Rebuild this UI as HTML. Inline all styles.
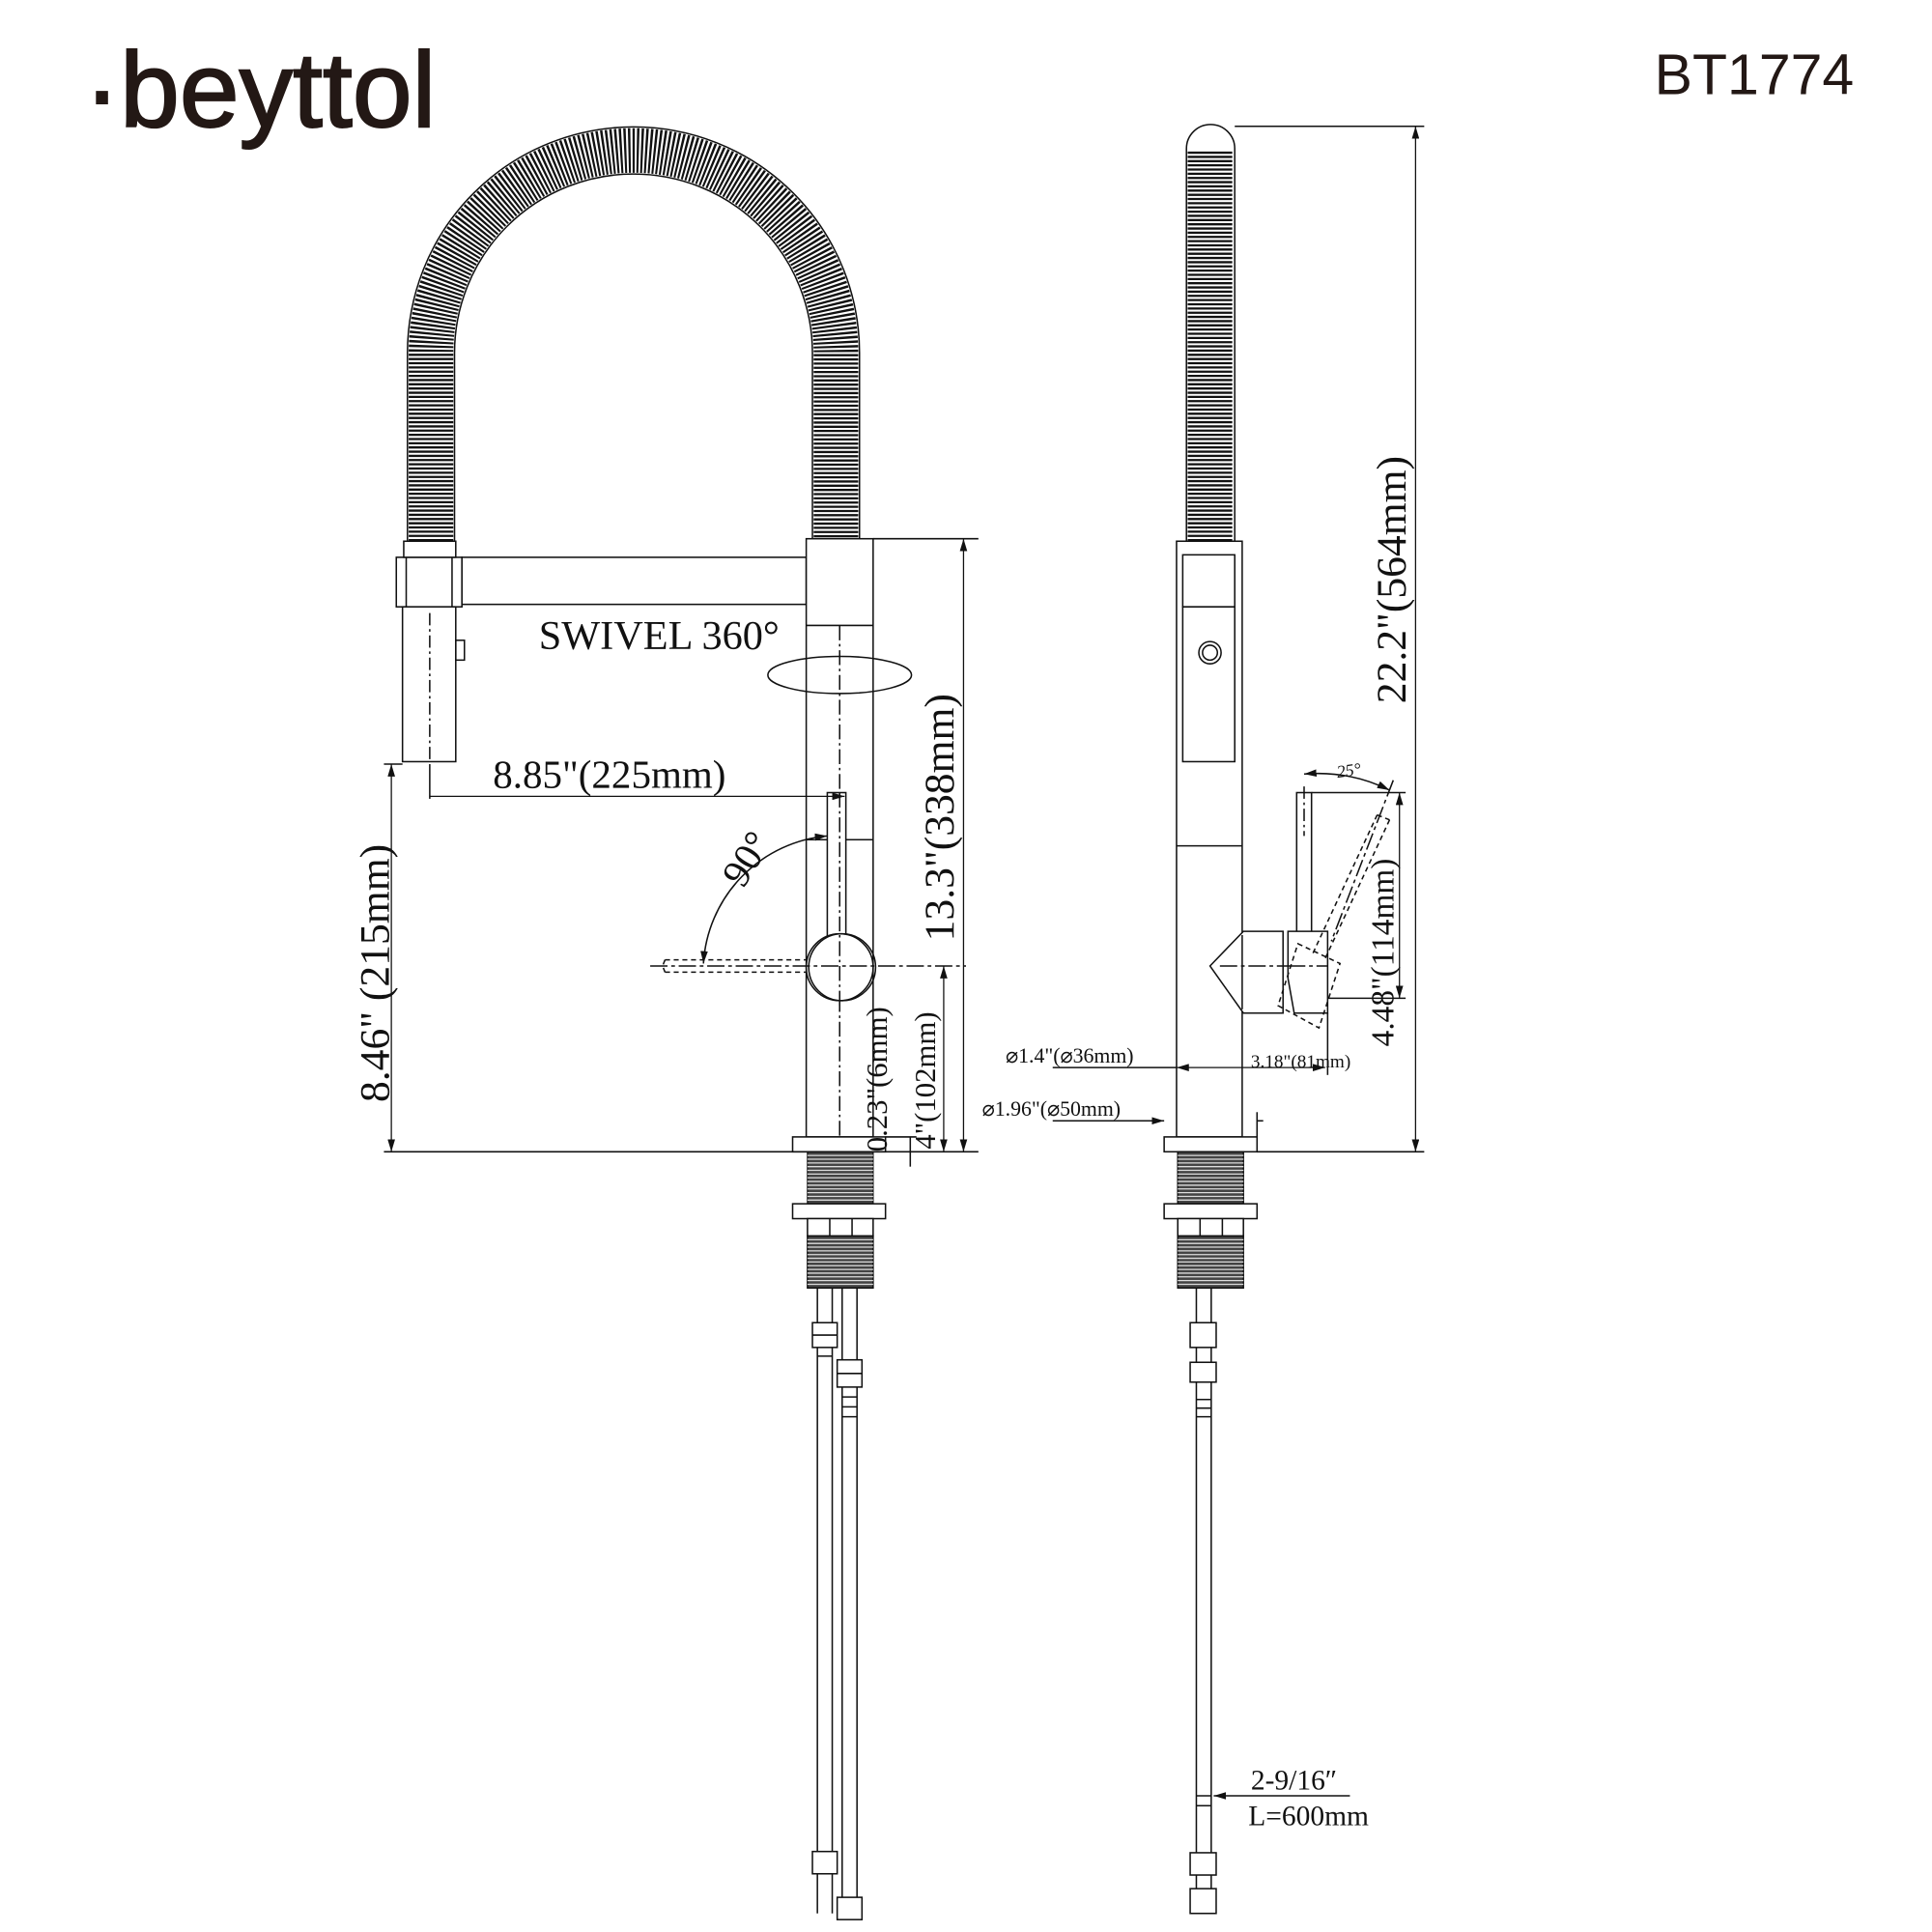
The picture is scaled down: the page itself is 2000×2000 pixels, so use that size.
<!DOCTYPE html>
<html><head><meta charset="utf-8"><style>
html,body{margin:0;padding:0;background:#fff;}
svg{display:block;}
text{font-family:"Liberation Serif",serif;fill:#111;}
</style></head><body>
<svg width="2000" height="2000" viewBox="0 0 1560 1560" xmlns="http://www.w3.org/2000/svg">
<defs>
<marker id="a" viewBox="0 0 10 6" refX="10" refY="3" markerWidth="10" markerHeight="6" orient="auto-start-reverse" markerUnits="userSpaceOnUse"><path d="M0 0L10 3L0 6z" fill="#111"/></marker>
</defs>
<rect width="1560" height="1560" fill="#fff"/>
<!-- header -->
<text x="68" y="102" textLength="284" lengthAdjust="spacingAndGlyphs" style="font-family:'Liberation Sans',sans-serif;font-size:86px;fill:#231815;stroke:#231815;stroke-width:1.5">·beyttol</text>
<text x="1497" y="76" text-anchor="end" style="font-family:'Liberation Sans',sans-serif;font-size:46px;fill:#231815">BT1774</text>

<g fill="none" stroke="#111" stroke-width="1.2">
<!-- LEFT hose -->
<path d="M348 437 L348 285 A163.5 163.5 0 0 1 675 285 L675 437" stroke="#111" stroke-width="36" stroke-dasharray="1.8 1.6"/>
<path d="M329 437 L329 285 A182.5 182.5 0 0 1 694 285 L694 437"/>
<path d="M367 437 L367 285 A144.5 144.5 0 0 1 656 285 L656 437"/>
<!-- holder & spray -->
<rect x="320" y="450" width="53" height="40" fill="#fff"/>
<line x1="328" y1="450" x2="328" y2="490"/><line x1="365" y1="450" x2="365" y2="490"/>
<rect x="326" y="437" width="42" height="13" fill="#fff"/>
<rect x="325" y="490" width="43" height="125" fill="#fff"/>
<line x1="347" y1="495" x2="347" y2="615" stroke-dasharray="10 3 2 3"/>
<rect x="368" y="517" width="7" height="16"/>
<!-- arm -->
<rect x="373" y="450" width="278" height="38" fill="#fff"/>
<!-- body -->
<rect x="651" y="435" width="54" height="483" fill="#fff"/>
<line x1="651" y1="505" x2="705" y2="505"/>
<line x1="651" y1="678" x2="705" y2="678"/>
<line x1="678" y1="505" x2="678" y2="918" stroke-dasharray="12 3 2 3"/>
<ellipse cx="678" cy="545" rx="58" ry="15"/>
<!-- lever -->
<rect x="668" y="640" width="15" height="120" fill="#fff"/>
<circle cx="678" cy="781" r="27" fill="#fff"/>
<circle cx="680" cy="781" r="27"/>
<line x1="678" y1="640" x2="678" y2="820" stroke-dasharray="12 3 2 3"/>
<path d="M537 775 L651 775 M537 785 L651 785 M537 775 L535 780 L537 785" stroke-dasharray="4 3"/>
<line x1="525" y1="780" x2="780" y2="780" stroke-dasharray="14 3 3 3"/>
<path d="M568 778 A110 110 0 0 1 668 675" marker-start="url(#a)" marker-end="url(#a)"/>
<!-- base left -->
<rect x="640" y="918" width="75" height="12" fill="#fff"/>
<rect x="652" y="930" width="53" height="42" fill="#444" stroke-width="1"/>
<path d="M652 933 H705 M652 936 H705 M652 939 H705 M652 942 H705 M652 945 H705 M652 948 H705 M652 951 H705 M652 954 H705 M652 957 H705 M652 960 H705 M652 963 H705 M652 966 H705 M652 969 H705" stroke="#ddd" stroke-width="1"/>
<rect x="640" y="972" width="75" height="12" fill="#fff"/>
<path d="M652 984 L705 984 L705 998 L652 998 Z M670 984 L670 998 M688 984 L688 998" fill="#fff"/>
<rect x="652" y="998" width="53" height="42" fill="#444"/>
<path d="M652 1001 H705 M652 1004 H705 M652 1007 H705 M652 1010 H705 M652 1013 H705 M652 1016 H705 M652 1019 H705 M652 1022 H705 M652 1025 H705 M652 1028 H705 M652 1031 H705 M652 1034 H705 M652 1037 H705" stroke="#ddd" stroke-width="1"/>
<!-- hoses left -->
<path d="M660 1040 V1545 M672 1040 V1545 M680 1040 V1545 M692 1040 V1545"/>
<g fill="#fff">
<rect x="656" y="1068" width="20" height="20"/><line x1="656" y1="1078" x2="676" y2="1078"/>
<rect x="676" y="1098" width="20" height="22"/><line x1="676" y1="1109" x2="696" y2="1109"/>
<rect x="656" y="1495" width="20" height="18"/><rect x="676" y="1532" width="20" height="18"/>
</g>
<path d="M680 1128 H692 M680 1136 H692 M680 1144 H692 M660 1095 H672"/>
<!-- left dims -->
<line x1="347" y1="617" x2="347" y2="645"/>
<line x1="347" y1="643" x2="682" y2="643" marker-end="url(#a)" stroke-width="1"/>
<line x1="310" y1="617" x2="325" y2="617"/>
<line x1="316" y1="617" x2="316" y2="930" marker-start="url(#a)" marker-end="url(#a)" stroke-width="1"/>
<line x1="310" y1="930" x2="790" y2="930"/>
<line x1="705" y1="435" x2="790" y2="435"/>
<line x1="778" y1="435" x2="778" y2="930" marker-start="url(#a)" marker-end="url(#a)" stroke-width="1"/>
<line x1="762" y1="780" x2="762" y2="930" marker-start="url(#a)" marker-end="url(#a)" stroke-width="1"/>
<line x1="735" y1="918" x2="735" y2="942"/>
<line x1="715" y1="918" x2="740" y2="918"/>

<!-- RIGHT hose -->
<path d="M977 437 V122" stroke="#111" stroke-width="36" stroke-dasharray="1.8 1.6"/>
<path d="M958 437 V120 A19.5 19.5 0 0 1 997 120 V437"/>
<rect x="950" y="437" width="53" height="481" fill="#fff"/>
<rect x="955" y="448" width="42" height="42"/>
<rect x="955" y="490" width="42" height="125"/>
<circle cx="977" cy="527" r="9"/><circle cx="977" cy="527" r="6"/>
<line x1="950" y1="683" x2="1003" y2="683"/>
<!-- right lever -->
<rect x="1047" y="640" width="12" height="115" fill="#fff"/>
<line x1="1053" y1="635" x2="1053" y2="675" stroke-dasharray="10 3 2 3"/>
<path d="M977 780 L1004 752 L1036 752 L1036 818 L1004 818 Z" fill="#fff"/>
<path d="M1040 752 L1072 752 L1072 818 L1045 818 L1040 790 Z" fill="#fff"/>
<line x1="1003" y1="755" x2="1003" y2="815"/>
<path d="M1112 658 L1060 770 M1122 662 L1070 774 M1112 658 L1122 662 M1048 762 L1082 778 L1065 830 L1032 812 Z" stroke-dasharray="4 3"/>
<line x1="1125" y1="630" x2="1075" y2="760" stroke-dasharray="14 3 3 3"/>
<line x1="1040" y1="780" x2="1072" y2="780" stroke-dasharray="14 3 3 3"/>
<line x1="985" y1="780" x2="1040" y2="780" stroke-dasharray="14 3 3 3"/>
<path d="M1053 625 Q1090 622 1122 638" marker-start="url(#a)" marker-end="url(#a)"/>
<line x1="1059" y1="640" x2="1135" y2="640"/>
<line x1="1072" y1="806" x2="1135" y2="806"/>
<line x1="1130" y1="640" x2="1130" y2="806" marker-start="url(#a)" marker-end="url(#a)" stroke-width="1"/>
<line x1="1072" y1="818" x2="1072" y2="868"/>
<line x1="950" y1="862" x2="1070" y2="862" marker-start="url(#a)" marker-end="url(#a)" stroke-width="1"/>
<line x1="850" y1="862" x2="950" y2="862"/>
<line x1="850" y1="905" x2="940" y2="905" marker-end="url(#a)"/>
<line x1="1015" y1="905" x2="1020" y2="905"/>
<line x1="1015" y1="898" x2="1015" y2="918"/>
<line x1="997" y1="102" x2="1150" y2="102"/>
<line x1="1015" y1="930" x2="1150" y2="930"/>
<line x1="1143" y1="102" x2="1143" y2="930" marker-start="url(#a)" marker-end="url(#a)" stroke-width="1"/>
<!-- base right -->
<rect x="940" y="918" width="75" height="12" fill="#fff"/>
<rect x="951" y="930" width="53" height="42" fill="#444"/>
<path d="M951 933 H1004 M951 936 H1004 M951 939 H1004 M951 942 H1004 M951 945 H1004 M951 948 H1004 M951 951 H1004 M951 954 H1004 M951 957 H1004 M951 960 H1004 M951 963 H1004 M951 966 H1004 M951 969 H1004" stroke="#ddd" stroke-width="1"/>
<rect x="940" y="972" width="75" height="12" fill="#fff"/>
<path d="M951 984 H1004 V998 H951 Z M969 984 V998 M987 984 V998" fill="#fff"/>
<rect x="951" y="998" width="53" height="42" fill="#444"/>
<path d="M951 1001 H1004 M951 1004 H1004 M951 1007 H1004 M951 1010 H1004 M951 1013 H1004 M951 1016 H1004 M951 1019 H1004 M951 1022 H1004 M951 1025 H1004 M951 1028 H1004 M951 1031 H1004 M951 1034 H1004 M951 1037 H1004" stroke="#ddd" stroke-width="1"/>
<path d="M966 1040 V1545 M978 1040 V1545"/>
<g fill="#fff">
<rect x="961" y="1068" width="21" height="20"/><rect x="961" y="1100" width="21" height="16"/>
<rect x="961" y="1496" width="21" height="18"/><rect x="961" y="1525" width="21" height="20"/>
</g>
<path d="M966 1130 H978 M966 1137 H978 M966 1144 H978 M966 1450 H978 M966 1458 H978"/>
<line x1="1090" y1="1450" x2="980" y2="1450" marker-end="url(#a)"/>
</g>

<!-- labels -->
<text x="435" y="524" font-size="33">SWIVEL 360°</text>
<text x="398" y="636" font-size="32">8.85"(225mm)</text>
<text transform="translate(600,718) rotate(-58)" font-size="32">90°</text>
<text transform="translate(314,890) rotate(-90)" font-size="34">8.46" (215mm)</text>
<text transform="translate(770,760) rotate(-90)" font-size="34">13.3"(338mm)</text>
<text transform="translate(755,928) rotate(-90)" font-size="24">4"(102mm)</text>
<text transform="translate(716,930) rotate(-90)" font-size="24">0.23"(6mm)</text>
<text transform="translate(1135,568) rotate(-90)" font-size="34">22.2"(564mm)</text>
<text transform="translate(1125,845) rotate(-90)" font-size="26">4.48"(114mm)</text>
<text transform="translate(1080,628) rotate(-8)" font-size="14" font-style="italic">25°</text>
<text x="1010" y="862" font-size="15">3.18"(81mm)</text>
<text x="812" y="858" font-size="17">⌀1.4"(⌀36mm)</text>
<text x="793" y="901" font-size="17">⌀1.96"(⌀50mm)</text>
<text x="1010" y="1445" font-size="23">2-9/16″</text>
<text x="1008" y="1474" font-size="23">L=600mm</text>
</svg>
</body></html>
